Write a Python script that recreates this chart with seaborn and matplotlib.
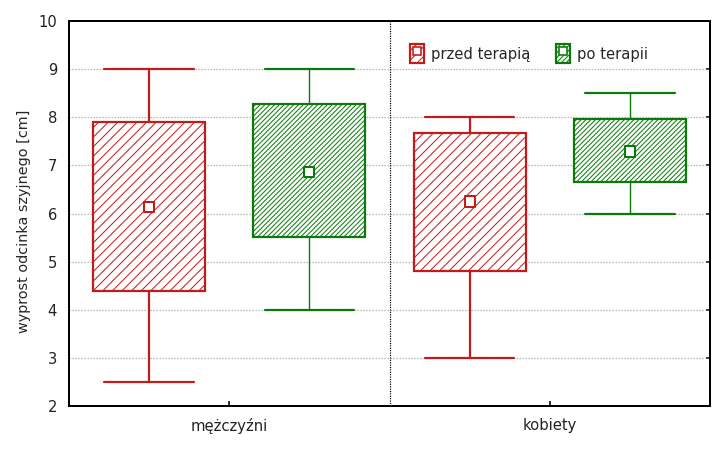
import matplotlib
matplotlib.use("Agg")
import matplotlib.pyplot as plt
import seaborn as sns
import pandas as pd
import numpy as np
from matplotlib.patches import Patch
from matplotlib.lines import Line2D
from matplotlib.legend_handler import HandlerTuple

# ---- data ----
groups = ["mężczyźni", "kobiety"]
series = ["przed terapią", "po terapii"]

przed_mean = [6.14, 6.25]
przed_box_low = [4.38, 4.80]
przed_box_high = [7.90, 7.67]
przed_min = [2.5, 3.0]
przed_max = [9.0, 8.0]

po_mean = [6.87, 7.29]
po_box_low = [5.51, 6.65]
po_box_high = [8.27, 7.97]
po_min = [4.0, 6.0]
po_max = [9.0, 8.5]

y_ticks = [2, 3, 4, 5, 6, 7, 8, 9, 10]
y_label = "wyprost odcinka szyjnego [cm]"

RED = "#C41A1A"
GREEN = "#0B7A0B"

sns.set_theme(style="white")
plt.rcParams["font.family"] = ["DejaVu Sans"]
plt.rcParams["hatch.linewidth"] = 0.5

DPI = 144
fig = plt.figure(figsize=(720 / DPI, 450 / DPI), dpi=DPI)
ax = fig.add_axes([69 / 720, 1 - 406 / 450, (710 - 69) / 720, (406 - 21) / 450])

offsets = {"przed terapią": -0.25, "po terapii": 0.25}
colors = {"przed terapią": RED, "po terapii": GREEN}
hatches = {"przed terapią": "/////", "po terapii": "//////////"}
whisk_lw = {"przed terapią": 1.1, "po terapii": 0.7}
data = {
    "przed terapią": (przed_mean, przed_box_low, przed_box_high, przed_min, przed_max),
    "po terapii": (po_mean, po_box_low, po_box_high, po_min, po_max),
}

rows = []
for s in series:
    mean, lo, hi, mn, mx = data[s]
    stats = []
    for i, g in enumerate(groups):
        stats.append(dict(med=mean[i], q1=lo[i], q3=hi[i], whislo=mn[i], whishi=mx[i],
                          mean=mean[i], fliers=[], label=g))
        rows.append(dict(x=i + offsets[s], mean=mean[i], seria=s))
    pos = [i + offsets[s] for i in range(len(groups))]
    c = colors[s]
    ax.bxp(stats, positions=pos, widths=0.35, patch_artist=True, showmeans=False,
           showfliers=False, manage_ticks=False,
           boxprops=dict(facecolor="white", edgecolor=c, hatch=hatches[s], linewidth=1.1),
           medianprops=dict(linewidth=0),
           whiskerprops=dict(color=c, linewidth=whisk_lw[s]),
           capprops=dict(color=c, linewidth=1.1),
           capwidths=0.28, zorder=3)

df = pd.DataFrame(rows)
sns.scatterplot(data=df, x="x", y="mean", hue="seria", palette=colors, marker="s",
                s=26, linewidth=1.0, legend=False, ax=ax, zorder=5)
coll = ax.collections[-1]
coll.set_facecolor("white")
coll.set_edgecolors([colors[s] for s in df["seria"]])

ax.set_xlim(-0.5, 1.5)
ax.set_ylim(2, 10)
ax.set_yticks(y_ticks)
ax.set_xticks(range(len(groups)))
ax.set_xticklabels(groups)
ax.set_xlabel("")
ax.set_ylabel(y_label, fontsize=7.2)
ax.yaxis.set_label_coords(-0.060, 0.48)

for v in y_ticks[1:-1]:
    ax.axhline(v, color="#a0a0a0", linestyle=(0, (1, 1.5)), linewidth=0.6, zorder=1)
ax.axvline(0.5, color="black", linestyle=(0, (1, 1)), linewidth=0.6, zorder=1)

for sp in ax.spines.values():
    sp.set_visible(True)
    sp.set_color("black")
    sp.set_linewidth(1.0)

ax.tick_params(axis="y", left=False, right=True, direction="in", length=2, width=0.8,
               labelsize=7.4, pad=6, colors="black")
ax.tick_params(axis="x", bottom=True, direction="in", length=2.5, width=0.8,
               labelsize=7.4, pad=6, colors="black")
for t in ax.get_yticklabels() + ax.get_xticklabels():
    t.set_color("#222222")

handles = []
for s in series:
    c = colors[s]
    handles.append((Patch(facecolor="white", edgecolor=c, hatch=hatches[s], linewidth=1.1),
                    Line2D([], [], marker="s", markersize=3.8, markerfacecolor="white",
                           markeredgecolor=c, markeredgewidth=0.8, linestyle="")))
leg = ax.legend(handles, series, handler_map={tuple: HandlerTuple(ndivide=1, pad=0)},
                loc="center left", bbox_to_anchor=((410 - 69) / 641, 0.915), ncol=2,
                frameon=False, fontsize=7.4, handlelength=0.95, handleheight=1.6,
                handletextpad=0.5, columnspacing=1.7, borderaxespad=0, borderpad=0)

fig.savefig("out.png", dpi=DPI, facecolor="white")
